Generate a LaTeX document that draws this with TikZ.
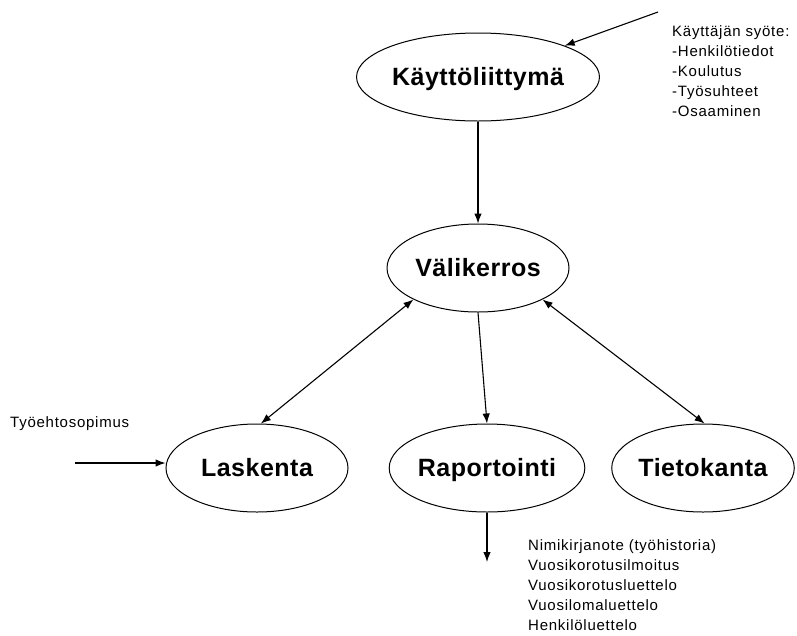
\documentclass[tikz,border=0pt]{standalone}
\usepackage{fontspec}
\setmainfont{Liberation Sans}
\usetikzlibrary{shapes.geometric,arrows.meta}
\begin{document}
\begin{tikzpicture}[x=1pt,y=-1pt,
  box/.style={draw, ellipse, minimum width=182pt, minimum height=88pt, inner sep=0pt, text height=17.9pt, text depth=0pt, line width=1pt, font=\fontsize{25}{29}\selectfont\bfseries\addfontfeatures{LetterSpace=2}},
  arr/.style={-{Latex[length=10pt,width=7.5pt]}, line width=1.1pt},
  darr/.style={{Latex[length=10pt,width=7.5pt]}-{Latex[length=10pt,width=7.5pt]}, line width=1.1pt},
  lbl/.style={font=\fontsize{15}{20}\selectfont\addfontfeatures{LetterSpace=5}, align=left, inner sep=0pt, anchor=north west}]
\useasboundingbox[fill=white] (0,0) rectangle (797,635);
\node[box] (K) at (478,77) {Käyttöliittymä};
\node[box] (V) at (478,268) {Välikerros};
\node[box] (L) at (257,468) {Laskenta};
\node[box] (R) at (487,468) {Raportointi};
\node[box] (T) at (703,468) {Tietokanta};
\coordinate (inK) at (658,12);
\coordinate (inL) at (75,463);
\coordinate (outR) at (487,562);
\draw[arr] (inK) -- (K);
\draw[arr] (K) -- (V);
\draw[darr] (V.206) -- (L.85);
\draw[arr] (V.south) -- (R.north);
\draw[darr] (V.334) -- (T.88);
\draw[arr] (inL) -- (inL -| L.west);
\draw[arr] (R.south) -- (outR);
\node[lbl] (user) at (672,25) {Käyttäjän syöte:\\-Henkilötiedot\\-Koulutus\\-Työsuhteet\\-Osaaminen};
\node[lbl] (tes) at (10,416) {Työehtosopimus};
\node[lbl] (rep) at (528,539) {Nimikirjanote (työhistoria)\\Vuosikorotusilmoitus\\Vuosikorotusluettelo\\Vuosilomaluettelo\\Henkilöluettelo};
\end{tikzpicture}
\end{document}
